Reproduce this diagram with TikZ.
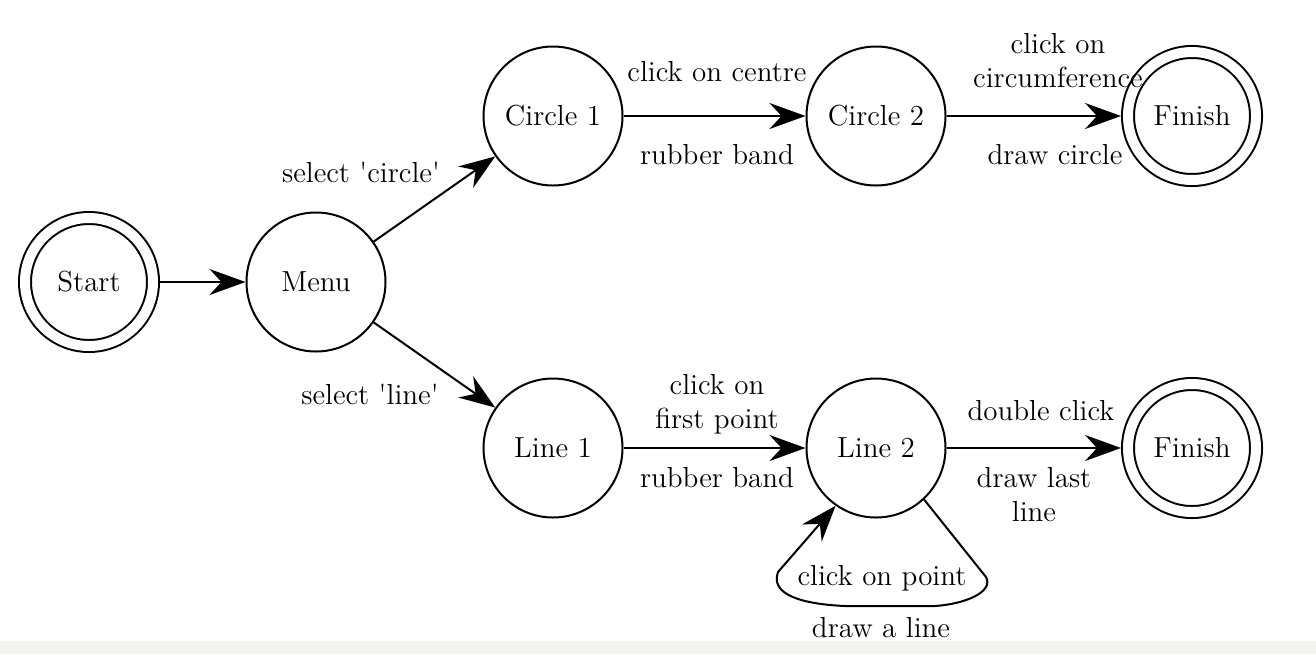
\documentclass[tikz,border=0pt]{standalone}
\usetikzlibrary{arrows.meta}
\begin{document}
\begin{tikzpicture}[x=0.5pt,y=-0.5pt,
  txt/.style={font=\fontsize{14.5}{17}\selectfont},
  state/.style={circle,draw,line width=1pt,minimum size=69.5pt,inner sep=0pt,txt},
  final/.style={circle,draw,line width=1pt,double,double distance=5pt,minimum size=64pt,inner sep=0pt,outer sep=3.5pt,txt},
  lbl/.style={txt,align=center,inner sep=0pt},
  arr/.style={-{Stealth[length=18pt,width=13pt,inset=6pt]},line width=1pt}]
\useasboundingbox (0,0) rectangle (1316,654);
\fill[fill={rgb,255:red,244;green,244;blue,239}] (0,641) rectangle (1316,654);

\node[final] (start) at (89,282) {Start};
\node[state] (menu) at (316,282) {Menu};
\node[state] (c1) at (553,116) {Circle 1};
\node[state] (c2) at (876,116) {Circle 2};
\node[final] (f1) at (1192,116) {Finish};
\node[state] (l1) at (553,448) {Line 1};
\node[state] (l2) at (876,448) {Line 2};
\node[final] (f2) at (1192,448) {Finish};

\draw[arr] (start) -- (menu);
\draw[arr] (menu) -- (c1);
\draw[arr] (menu) -- (l1);
\draw[arr] (c1) -- (c2);
\draw[arr] (c2) -- (f1);
\draw[arr] (l1) -- (l2);
\draw[arr] (l2) -- (f2);
\draw[arr] (l2.-47) -- (986,577) .. controls (994,592) and (965,604) .. (935,606) -- (845,606) .. controls (800,604) and (770,594) .. (778,572) -- (l2.-125);

\node[lbl] (t1) at (361,172) {select \textquotesingle circle\textquotesingle};
\node[lbl] (t2) at (370,394) {select \textquotesingle line\textquotesingle};
\node[lbl] (t3) at (717,72) {click on centre};
\node[lbl] (t4) at (717,155) {rubber band};
\node[lbl] (t5) at (1058,61) {click on\\circumference};
\node[lbl] (t6) at (1055,155) {draw circle};
\node[lbl] (t7) at (717,404) {click on\\first point};
\node[lbl] (t8) at (717,478) {rubber band};
\node[lbl] (t9) at (1041,411) {double click};
\node[lbl] (t10) at (1034,495) {draw last\\line};
\node[lbl] (t11) at (882,578) {click on point};
\node[lbl] (t12) at (881,628) {draw a line};
\end{tikzpicture}
\end{document}
